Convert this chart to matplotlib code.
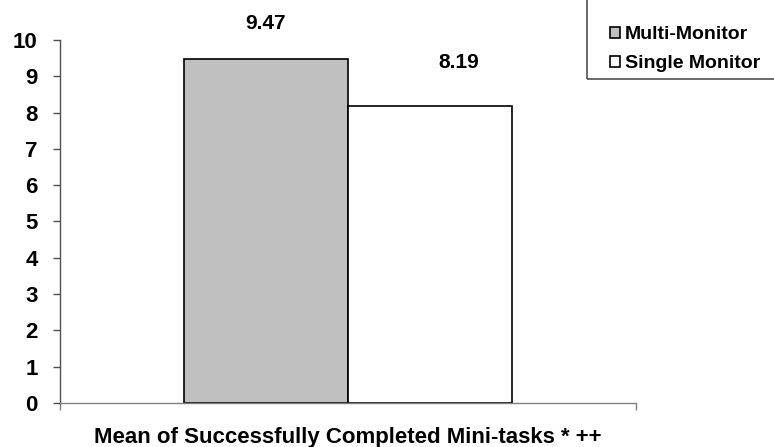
import matplotlib
matplotlib.use("Agg")
from matplotlib import pyplot as plt
from matplotlib.patches import Rectangle
import numpy as np

plt.rcParams['font.family'] = ['Liberation Sans', 'DejaVu Sans']
plt.rcParams['font.weight'] = 'bold'

groups = ["Multi-Monitor", "Single Monitor"]
means = [9.47, 8.19]
colors = ["#c0c0c0", "#ffffff"]
category = "Mean of Successfully Completed Mini-tasks * ++"

# label offsets (points) above each bar top
label_offsets = [(0, 22), (21, 27)]

W, H = 774, 447
fig = plt.figure(figsize=(W/100, H/100), dpi=100)
ax = fig.add_axes([60/W, 44/H, 576/W, 363/H])

width = 0.285
x0 = 0.5
for i, (name, val, col) in enumerate(zip(groups, means, colors)):
    xpos = x0 + (i - 0.5) * width
    ax.bar(xpos, val, width=width, color=col, edgecolor="black",
           linewidth=1.2, label=name)
    ax.annotate("%.2f" % val, (xpos, val), xytext=label_offsets[i],
                textcoords="offset points", ha="center", va="baseline",
                fontsize=15, fontweight="bold")

ax.set_xlim(0, 1)
ax.set_ylim(0, 10)
ax.set_yticks(np.arange(0, 11, 1))
ax.set_xticks([0, 1])
ax.set_xticklabels(["", ""])
ax.tick_params(axis="y", labelsize=16, length=5, width=1, color="#505050", pad=11)
ax.tick_params(axis="x", length=5, width=1, color="#808080")
for t in ax.get_yticklabels():
    t.set_fontweight("bold")
ax.spines["top"].set_visible(False)
ax.spines["right"].set_visible(False)
ax.spines["left"].set_color("#505050")
ax.spines["bottom"].set_color("#808080")
for s in ("left", "bottom"):
    ax.spines[s].set_linewidth(1.0)

fig.text(348/W, 1 - 443/H, category, ha="center", va="baseline",
         fontsize=16, fontweight="bold")

# legend box, running off the top-right corner
fig.patches.append(Rectangle((587/W, 1 - 79/H), 0.5, 0.5,
                             transform=fig.transFigure, fill=False,
                             edgecolor="#505050", linewidth=1.2))
leg = fig.legend(loc="lower left", bbox_to_anchor=(610/W, 1 - 72/H),
                 frameon=False, fontsize=14,
                 handlelength=0.5, handleheight=0.5, handletextpad=0.25,
                 labelspacing=0.6, borderpad=0, borderaxespad=0)

fig.savefig("out.png", dpi=100)
